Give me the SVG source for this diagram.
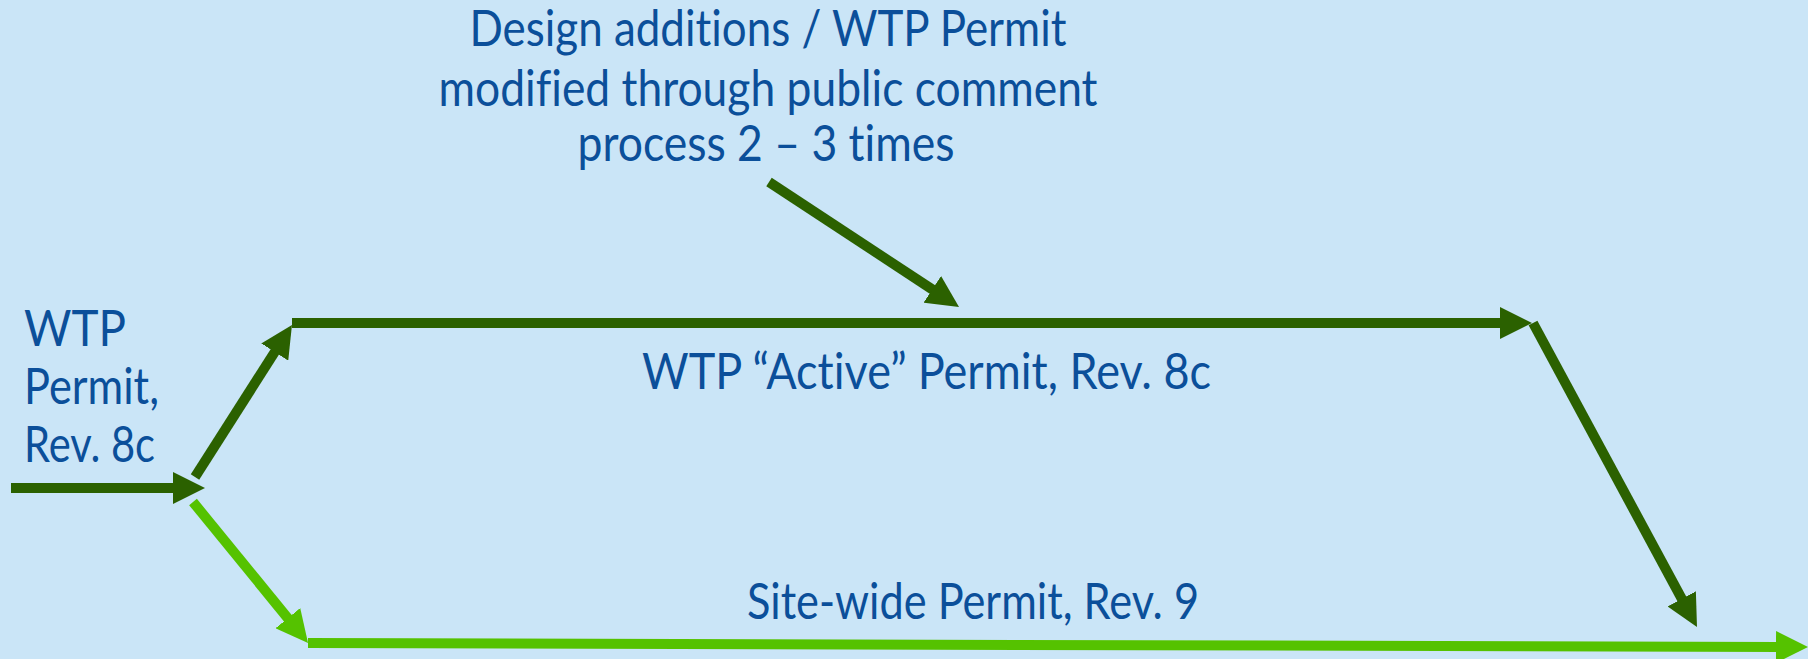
<svg xmlns="http://www.w3.org/2000/svg" width="1808" height="659" viewBox="0 0 1808 659">
  <style>
    .bg { fill: #cae5f7; }
    .lbl { font-family: Lato, "Open Sans", "Liberation Sans", sans-serif; font-size: 50px; fill: #0b4f9a; font-variant-ligatures: none; }
    .mid { text-anchor: middle; }
    .dark { stroke: #2b6100; stroke-width: 10; fill: none; }
    .light { stroke: #55c200; stroke-width: 10; fill: none; }
  </style>
  <defs>
    <!-- arrowheads: line end sits 20px behind the tip -->
    <marker id="headDark" markerUnits="userSpaceOnUse" markerWidth="32" markerHeight="32" refX="12" refY="16" orient="auto">
      <path d="M0,0 L32,16 L0,32 Z" fill="#2b6100"/>
    </marker>
    <marker id="headLight" markerUnits="userSpaceOnUse" markerWidth="32" markerHeight="32" refX="12" refY="16" orient="auto">
      <path d="M0,0 L32,16 L0,32 Z" fill="#55c200"/>
    </marker>
  </defs>

  <rect class="bg" x="0" y="0" width="1808" height="659"/>

  <g id="connectors">
    <line id="in-arrow" class="dark" x1="11" y1="488" x2="185" y2="488" marker-end="url(#headDark)"/>
    <line id="up-branch" class="dark" x1="195" y1="477" x2="281.2" y2="341.9" marker-end="url(#headDark)"/>
    <line id="active-track" class="dark" x1="292" y1="323" x2="1512" y2="323" marker-end="url(#headDark)"/>
    <line id="comment-arrow" class="dark" x1="769" y1="182" x2="942.3" y2="296" marker-end="url(#headDark)"/>
    <line id="down-branch" class="dark" x1="1533" y1="323" x2="1687.5" y2="609.4" marker-end="url(#headDark)"/>
    <line id="green-branch" class="light" x1="193" y1="502" x2="295.4" y2="627.5" marker-end="url(#headLight)"/>
    <line id="sitewide-track" class="light" x1="308" y1="643" x2="1788" y2="647" marker-end="url(#headLight)"/>
  </g>

  <g id="note">
    <text class="lbl mid" x="768" y="46" textLength="597" lengthAdjust="spacingAndGlyphs">Design additions / WTP Permit</text>
    <text class="lbl mid" x="768" y="106" textLength="659" lengthAdjust="spacingAndGlyphs">modified through public comment</text>
    <text class="lbl mid" x="766" y="161" textLength="377" lengthAdjust="spacingAndGlyphs">process 2 – 3 times</text>
  </g>

  <g id="start-permit">
    <text class="lbl" x="24" y="346" textLength="102" lengthAdjust="spacingAndGlyphs">WTP</text>
    <text class="lbl" x="24" y="404" textLength="135" lengthAdjust="spacingAndGlyphs">Permit,</text>
    <text class="lbl" x="24" y="462" textLength="131" lengthAdjust="spacingAndGlyphs">Rev. 8c</text>
  </g>

  <g id="active-permit">
    <text class="lbl" x="642" y="389" textLength="569" lengthAdjust="spacingAndGlyphs">WTP “Active” Permit, Rev. 8c</text>
  </g>

  <g id="sitewide-permit">
    <text class="lbl" x="747" y="619" textLength="452" lengthAdjust="spacingAndGlyphs">Site-wide Permit, Rev. 9</text>
  </g>
</svg>
